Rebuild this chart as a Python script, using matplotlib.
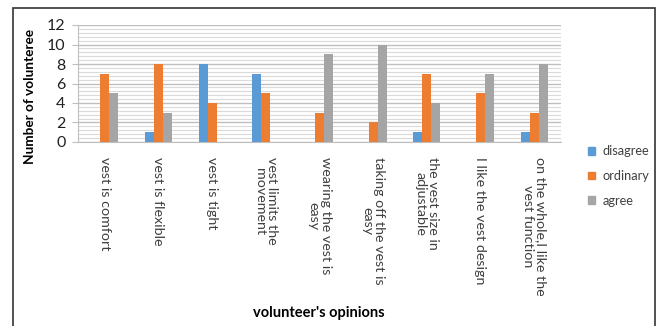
import matplotlib.pyplot as plt
import matplotlib.ticker as ticker
from matplotlib.patches import Patch, Rectangle
import numpy as np

plt.rcParams['font.family'] = ['Lato', 'DejaVu Sans']

opinions = ["vest is comfort", "vest is flexible", "vest is tight",
            "vest limits the\nmovement", "wearing the vest is\neasy",
            "taking off the vest is\neasy", "the vest size in\nadjustable",
            "I like the vest design", "on the whole,I like the\nvest function"]
disagree = [0, 1, 8, 7, 0, 0, 1, 0, 1]
ordinary = [7, 8, 4, 5, 3, 2, 7, 5, 3]
agree = [5, 3, 0, 0, 9, 10, 4, 7, 8]

c_dis = "#5B9BD5"
c_ord = "#ED7D31"
c_agr = "#A5A5A5"

fig = plt.figure(figsize=(6.59, 3.26), dpi=100)
ax = fig.add_axes([78 / 659, 1 - 142 / 326, (561 - 78) / 659, (142 - 25) / 326])

x = np.arange(len(opinions))
w = 0.168
ax.bar(x - w, disagree, w, color=c_dis, zorder=3)
ax.bar(x, ordinary, w, color=c_ord, zorder=3)
ax.bar(x + w, agree, w, color=c_agr, zorder=3)

ax.set_xlim(-0.5, len(opinions) - 0.5)
ax.set_ylim(0, 12)
ax.yaxis.set_major_locator(ticker.MultipleLocator(2))
ax.yaxis.set_minor_locator(ticker.MultipleLocator(0.4))
ax.grid(axis='y', which='major', color='#BFBFBF', linewidth=1.0, zorder=0)
ax.grid(axis='y', which='minor', color='#DADADA', linewidth=0.8, zorder=0)

ax.set_xticks(x)
ax.set_xticklabels(opinions, rotation=270, ha='center', va='top',
                   multialignment='center', fontsize=10.3, color='#404040',
                   linespacing=1.05)
ax.tick_params(axis='x', length=0, pad=11)
ax.tick_params(axis='y', which='major', length=4, color='#BFBFBF',
               labelsize=11.5, pad=5, labelcolor='#222222')
ax.tick_params(axis='y', which='minor', length=0)

for s in ['top', 'right']:
    ax.spines[s].set_visible(False)
ax.spines['left'].set_color('#BFBFBF')
ax.spines['bottom'].set_color('#BFBFBF')

fig.text(30 / 659, 1 - 96 / 326, "Number of volunteree", rotation=90,
         ha='center', va='center', fontsize=9.8, fontweight='bold')
fig.text(319 / 659, 1 - 313 / 326, "volunteer's opinions",
         ha='center', va='center', fontsize=10.5, fontweight='bold')

handles = [Patch(color=c_dis), Patch(color=c_ord), Patch(color=c_agr)]
fig.legend(handles, ["disagree", "ordinary", "agree"], loc='center left',
           bbox_to_anchor=(576 / 659, 1 - 176 / 326), frameon=False,
           fontsize=9.2, handlelength=0.55, handleheight=0.55,
           handletextpad=0.6, labelspacing=1.0, labelcolor='#404040')

fig.patches.append(Rectangle((13 / 659, -0.2), (655 - 13) / 659, 1.2 - 8 / 326,
                             transform=fig.transFigure, fill=False,
                             edgecolor='#333333', linewidth=1.2))

fig.savefig("out.png", dpi=100)
